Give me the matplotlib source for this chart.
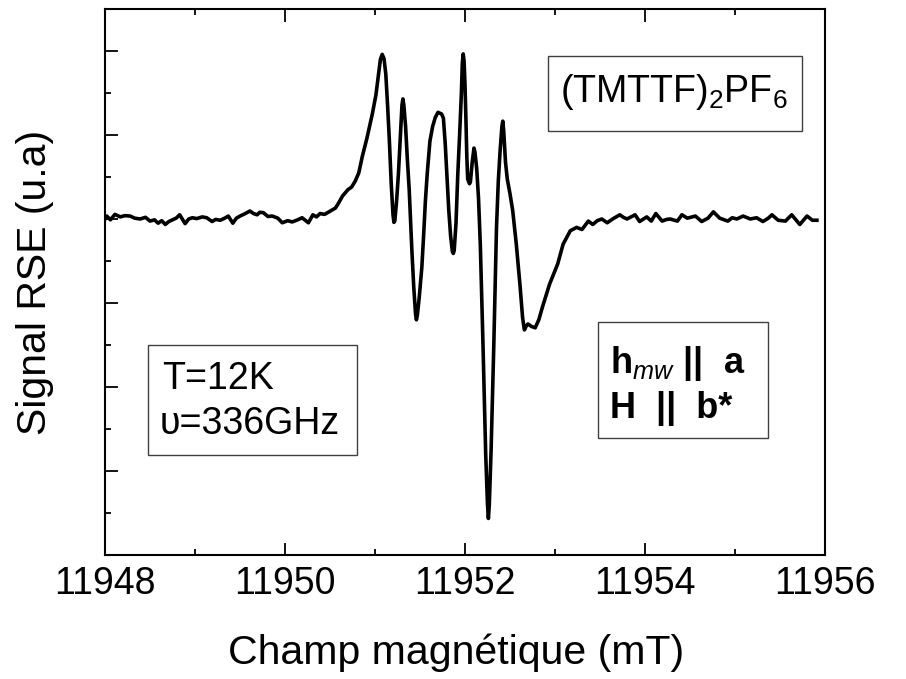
import numpy as np
import matplotlib
matplotlib.use('Agg')
import matplotlib.pyplot as plt
from matplotlib.patches import Rectangle
from matplotlib.ticker import MultipleLocator

plt.rcParams['font.family'] = ['Liberation Sans', 'DejaVu Sans']
plt.rcParams['mathtext.fontset'] = 'custom'
plt.rcParams['mathtext.rm'] = 'Liberation Sans'
plt.rcParams['mathtext.it'] = 'Liberation Sans:italic'
plt.rcParams['mathtext.bf'] = 'Liberation Sans:bold'

#EPR spectrum (field in mT, signal in arb. units)
field = [11948.00, 11948.02, 11948.06, 11948.11, 11948.17, 11948.22, 11948.28, 11948.33,
         11948.39, 11948.45, 11948.50, 11948.55, 11948.59, 11948.63, 11948.67, 11948.71,
         11948.74, 11948.79, 11948.83, 11948.89, 11948.93, 11948.97, 11949.02, 11949.08,
         11949.13, 11949.19, 11949.23, 11949.28, 11949.33, 11949.37, 11949.42, 11949.46,
         11949.50, 11949.55, 11949.61, 11949.65, 11949.69, 11949.72, 11949.76, 11949.81,
         11949.86, 11949.92, 11949.97, 11950.03, 11950.08, 11950.14, 11950.19, 11950.26,
         11950.31, 11950.35, 11950.39, 11950.44, 11950.48, 11950.52, 11950.56, 11950.59,
         11950.64, 11950.70, 11950.74, 11950.78, 11950.82, 11950.86, 11950.91, 11950.97,
         11951.01, 11951.04, 11951.06, 11951.08, 11951.10, 11951.12, 11951.14, 11951.16,
         11951.18, 11951.20, 11951.21, 11951.22, 11951.24, 11951.26, 11951.28, 11951.30,
         11951.31, 11951.32, 11951.34, 11951.36, 11951.38, 11951.41, 11951.43, 11951.45,
         11951.46, 11951.47, 11951.49, 11951.52, 11951.54, 11951.56, 11951.58, 11951.61,
         11951.64, 11951.67, 11951.70, 11951.72, 11951.74, 11951.76, 11951.78, 11951.80,
         11951.82, 11951.84, 11951.86, 11951.87, 11951.88, 11951.90, 11951.92, 11951.94,
         11951.96, 11951.97, 11951.98, 11951.99, 11952.00, 11952.01, 11952.02, 11952.03,
         11952.05, 11952.06, 11952.08, 11952.10, 11952.11, 11952.13, 11952.15, 11952.17,
         11952.20, 11952.23, 11952.25, 11952.26, 11952.27, 11952.29, 11952.32, 11952.35,
         11952.37, 11952.39, 11952.41, 11952.42, 11952.43, 11952.45, 11952.47, 11952.50,
         11952.53, 11952.57, 11952.61, 11952.64, 11952.66, 11952.68, 11952.70, 11952.74,
         11952.78, 11952.82, 11952.86, 11952.94, 11953.03, 11953.09,
         11953.17, 11953.24, 11953.30, 11953.37, 11953.42, 11953.47, 11953.52, 11953.58,
         11953.64, 11953.72, 11953.76, 11953.80, 11953.89, 11953.94, 11954.02, 11954.07,
         11954.12, 11954.19, 11954.24, 11954.28, 11954.36, 11954.41, 11954.47, 11954.56,
         11954.63, 11954.70, 11954.76, 11954.83, 11954.92, 11954.97, 11955.02, 11955.09,
         11955.17, 11955.24, 11955.31, 11955.37, 11955.41, 11955.48, 11955.56, 11955.63,
         11955.72, 11955.80, 11955.86, 11955.91]

signal = [0.00, 0.07, -0.02, 0.11, 0.05, 0.08, 0.07, 0.02,
          0.00, 0.04, -0.05, -0.02, -0.10, -0.04, -0.13, -0.06,
          -0.03, 0.02, 0.10, -0.11, 0.00, 0.03, 0.01, 0.05,
          0.03, -0.06, -0.01, -0.03, 0.02, 0.07, -0.10, 0.02,
          0.07, 0.12, 0.19, 0.13, 0.10, 0.16, 0.15, 0.06,
          0.07, 0.02, -0.09, -0.04, -0.07, -0.02, 0.03, -0.09,
          0.10, 0.05, 0.13, 0.11, 0.16, 0.21, 0.26, 0.36,
          0.55, 0.70, 0.76, 0.90, 1.10, 1.50, 1.92, 2.50,
          2.95, 3.45, 3.80, 3.92, 3.82, 3.45, 2.70, 1.85,
          0.85, 0.10, -0.08, -0.05, 0.43, 1.07, 1.90, 2.72,
          2.86, 2.72, 2.20, 1.40, 0.70, -0.76, -1.60, -2.25,
          -2.40, -2.30, -1.90, -1.16, -0.40, 0.43, 1.07, 1.85,
          2.20, 2.42, 2.54, 2.52, 2.50, 2.40, 1.80, 1.00,
          0.20, -0.40, -0.78, -0.82, -0.75, -0.10, 1.07, 2.00,
          3.00, 3.70, 3.93, 3.75, 3.20, 2.40, 1.50, 0.95,
          0.84, 0.88, 1.35, 1.69, 1.60, 1.20, 0.50, -0.60,
          -3.00, -5.60, -6.80, -7.13, -6.80, -5.50, -3.00, -0.20,
          0.90, 1.62, 2.20, 2.33, 2.10, 1.35, 0.95, 0.60,
          0.20, -0.60, -1.55, -2.35, -2.64, -2.55, -2.50, -2.56,
          -2.59, -2.40, -2.10, -1.55, -1.07, -0.60,
          -0.28, -0.20, -0.25, -0.05, -0.13, -0.04, 0.00, -0.09,
          0.00, 0.10, 0.04, 0.00, 0.10, -0.06, 0.05, -0.05,
          0.13, -0.05, -0.01, 0.00, -0.05, 0.10, 0.02, 0.07,
          -0.06, 0.02, 0.17, 0.02, -0.05, 0.03, 0.00, 0.07,
          0.00, 0.03, -0.06, 0.02, 0.10, -0.03, -0.05, 0.10,
          -0.13, 0.07, -0.03, -0.03]

x_ticks = [11948, 11950, 11952, 11954, 11956]

fig = plt.figure(figsize=(9.06, 6.79), dpi=100)
ax = fig.add_axes([105/906, 1-555/679, 720/906, 546/679])

ax.plot(field, signal, color='black', lw=2.6, solid_joinstyle='round')

ax.set_xlim(11948, 11956)
ax.set_ylim(-8, 5)
ax.set_xticks(x_ticks)
ax.xaxis.set_minor_locator(MultipleLocator(1))
ax.yaxis.set_major_locator(MultipleLocator(2))
ax.yaxis.set_minor_locator(MultipleLocator(1))
ax.tick_params(which='both', direction='in', top=True, right=False, width=1.3)
ax.tick_params(which='major', length=9)
ax.tick_params(which='minor', length=4.5)
ax.tick_params(axis='x', labelsize=27, pad=8)
ax.set_yticklabels([])
for s in ax.spines.values():
    s.set_linewidth(1.5)

ax.set_xlabel('Champ magnétique (mT)', fontsize=29.5)
ax.set_ylabel('Signal RSE (u.a)', fontsize=29.5)
ax.xaxis.set_label_coords(0.488, -0.179)
ax.xaxis.label.set_va('center')
ax.yaxis.set_label_coords(-0.097, 0.5)
ax.yaxis.label.set_va('center')

#annotation boxes (axes fraction)
def box(x0, y0, x1, y1):
    ax.add_patch(Rectangle((x0, y0), x1-x0, y1-y0, transform=ax.transAxes,
                           fill=False, ec='#404040', lw=1.0, zorder=5))

box(0.615, 0.777, 0.968, 0.914)
ax.text(0.790, 0.848, r'(TMTTF)$_2$PF$_6$', transform=ax.transAxes,
        ha='center', va='center', fontsize=27)

box(0.060, 0.183, 0.350, 0.385)
ax.text(0.080, 0.322, 'T=12K', transform=ax.transAxes, va='center', fontsize=27)
ax.text(0.076, 0.240, 'υ=336GHz', transform=ax.transAxes, va='center', fontsize=27)

box(0.685, 0.214, 0.921, 0.427)
ax.text(0.702, 0.350, r'$\mathbf{h}_{\mathit{mw}}$ ||  a', transform=ax.transAxes,
        va='center', fontsize=26, fontweight='bold')
ax.text(0.702, 0.268, 'H  ||  b*', transform=ax.transAxes,
        va='center', fontsize=26, fontweight='bold')

plt.savefig('out.png', dpi=100)
